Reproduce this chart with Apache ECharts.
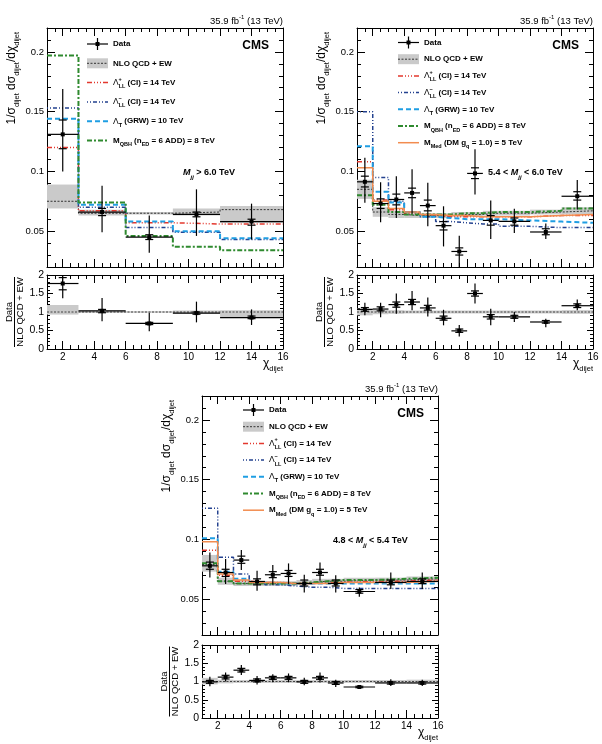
<!DOCTYPE html>
<html>
<head>
<meta charset="utf-8">
<script src="https://cdn.jsdelivr.net/npm/echarts@6/dist/echarts.min.js"></script>
<style>
html, body { margin: 0; padding: 0; background: #fff; }
#chart { width: 602px; height: 744px; }
</style>
</head>
<body>
<div id="chart"></div>
<script>
'use strict';

// chi_dijet bin edges
var edgesHigh = [1, 3, 6, 9, 12, 16];
var edgesLow = [1, 2, 3, 4, 5, 6, 7, 8, 9, 10, 12, 14, 16];

var xMajorTicks = [2, 4, 6, 8, 10, 12, 14, 16];
var yMainTicks = [0.05, 0.1, 0.15, 0.2];
var yRatioTicks = [0, 0.5, 1, 1.5, 2];

// ---- M_jj > 6.0 TeV
var p1Data = [0.131, 0.066, 0.045, 0.064, 0.058];
var p1DataLo = [0.100, 0.049, 0.032, 0.046, 0.043];
var p1DataHi = [0.169, 0.088, 0.063, 0.085, 0.073];
var p1StatLo = [0.119, 0.063, 0.043, 0.062, 0.055];
var p1StatHi = [0.143, 0.069, 0.047, 0.066, 0.060];
var p1Qcd = [0.075, 0.065, 0.065, 0.066, 0.068];
var p1QcdLo = [0.069, 0.063, 0.064, 0.063, 0.057];
var p1QcdHi = [0.089, 0.068, 0.066, 0.069, 0.071];
var p1CIplus = [0.120, 0.067, 0.057, 0.056, 0.056];
var p1CIminus = [0.153, 0.070, 0.053, 0.049, 0.043];
var p1GRW = [0.144, 0.072, 0.058, 0.050, 0.044];
var p1QBH = [0.197, 0.074, 0.046, 0.037, 0.034];
var p1Ratio = [1.77, 1.03, 0.69, 0.97, 0.85];
var p1RatioLo = [1.37, 0.75, 0.48, 0.72, 0.65];
var p1RatioHi = [2.30, 1.38, 0.98, 1.28, 1.07];
var p1RStatLo = [1.60, 0.98, 0.66, 0.94, 0.82];
var p1RStatHi = [1.93, 1.07, 0.72, 1.00, 0.89];
var p1BandLo = [0.93, 0.97, 0.98, 0.96, 0.84];
var p1BandHi = [1.19, 1.04, 1.02, 1.04, 1.05];

// ---- 5.4 < M_jj < 6.0 TeV
var p2Data = [0.0913, 0.0731, 0.0765, 0.082, 0.0714, 0.0546, 0.033, 0.0983, 0.059, 0.0582, 0.0493, 0.0792];
var p2DataLo = [0.0737, 0.0574, 0.061, 0.0647, 0.054, 0.0372, 0.018, 0.0807, 0.0434, 0.0485, 0.0434, 0.0681];
var p2DataHi = [0.1115, 0.091, 0.096, 0.1017, 0.0905, 0.0708, 0.0462, 0.1185, 0.0756, 0.0687, 0.0563, 0.0927];
var p2StatLo = [0.087, 0.069, 0.072, 0.078, 0.067, 0.051, 0.030, 0.094, 0.055, 0.055, 0.047, 0.076];
var p2StatHi = [0.096, 0.077, 0.081, 0.086, 0.076, 0.058, 0.036, 0.103, 0.063, 0.061, 0.052, 0.083];
var p2Qcd = [0.085, 0.066, 0.064, 0.063, 0.063, 0.063, 0.064, 0.064, 0.065, 0.065, 0.066, 0.067];
var p2QcdLo = [0.077, 0.062, 0.061, 0.061, 0.061, 0.061, 0.062, 0.062, 0.063, 0.063, 0.064, 0.064];
var p2QcdHi = [0.093, 0.070, 0.067, 0.065, 0.065, 0.065, 0.066, 0.066, 0.067, 0.067, 0.068, 0.070];
var p2CIplus = [0.108, 0.076, 0.068, 0.065, 0.063, 0.062, 0.062, 0.062, 0.062, 0.062, 0.063, 0.063];
var p2CIminus = [0.150, 0.095, 0.075, 0.066, 0.062, 0.058, 0.057, 0.056, 0.056, 0.054, 0.053, 0.053];
var p2GRW = [0.121, 0.083, 0.074, 0.066, 0.062, 0.061, 0.060, 0.060, 0.060, 0.059, 0.058, 0.057];
var p2QBH = [0.080, 0.072, 0.066, 0.064, 0.064, 0.064, 0.065, 0.065, 0.066, 0.066, 0.067, 0.069];
var p2DM = [0.103, 0.075, 0.069, 0.066, 0.064, 0.063, 0.063, 0.062, 0.062, 0.062, 0.063, 0.064];
var p2Ratio = [1.07, 1.08, 1.20, 1.27, 1.11, 0.83, 0.49, 1.50, 0.87, 0.87, 0.73, 1.17];
var p2RatioLo = [0.91, 0.86, 0.95, 1.05, 0.88, 0.64, 0.34, 1.23, 0.64, 0.73, 0.59, 1.05];
var p2RatioHi = [1.25, 1.25, 1.50, 1.57, 1.39, 1.06, 0.65, 1.77, 1.09, 1.00, 0.82, 1.34];
var p2RStatLo = [1.02, 1.03, 1.13, 1.20, 1.05, 0.78, 0.45, 1.43, 0.81, 0.83, 0.70, 1.12];
var p2RStatHi = [1.12, 1.14, 1.27, 1.34, 1.18, 0.89, 0.54, 1.57, 0.93, 0.91, 0.77, 1.22];
var p2BandLo = [0.91, 0.94, 0.95, 0.96, 0.96, 0.96, 0.96, 0.96, 0.96, 0.96, 0.96, 0.95];
var p2BandHi = [1.09, 1.06, 1.05, 1.04, 1.04, 1.04, 1.04, 1.04, 1.04, 1.04, 1.04, 1.05];

// ---- 4.8 < M_jj < 5.4 TeV
var p3Data = [0.0779, 0.0723, 0.0827, 0.0648, 0.0704, 0.0715, 0.0631, 0.0723, 0.0631, 0.0564, 0.0640, 0.0648];
var p3DataLo = [0.0682, 0.0626, 0.0743, 0.057, 0.062, 0.0626, 0.0556, 0.0654, 0.0556, 0.052, 0.0584, 0.0584];
var p3DataHi = [0.0891, 0.0835, 0.0911, 0.0737, 0.0785, 0.0799, 0.0704, 0.0807, 0.070, 0.0598, 0.0723, 0.0723];
var p3StatLo = [0.075, 0.069, 0.080, 0.062, 0.068, 0.069, 0.061, 0.070, 0.061, 0.055, 0.062, 0.063];
var p3StatHi = [0.081, 0.075, 0.086, 0.067, 0.073, 0.074, 0.066, 0.075, 0.066, 0.058, 0.066, 0.067];
var p3Qcd = [0.079, 0.065, 0.063, 0.063, 0.063, 0.063, 0.064, 0.065, 0.065, 0.066, 0.066, 0.067];
var p3QcdLo = [0.073, 0.062, 0.061, 0.061, 0.061, 0.061, 0.062, 0.063, 0.063, 0.064, 0.064, 0.065];
var p3QcdHi = [0.087, 0.068, 0.066, 0.065, 0.065, 0.065, 0.066, 0.067, 0.067, 0.068, 0.068, 0.069];
var p3CIplus = [0.091, 0.070, 0.065, 0.064, 0.064, 0.063, 0.063, 0.064, 0.064, 0.065, 0.065, 0.066];
var p3CIminus = [0.126, 0.085, 0.071, 0.064, 0.062, 0.061, 0.060, 0.060, 0.059, 0.059, 0.059, 0.059];
var p3GRW = [0.101, 0.073, 0.067, 0.064, 0.063, 0.063, 0.063, 0.063, 0.063, 0.063, 0.063, 0.063];
var p3QBH = [0.080, 0.065, 0.063, 0.063, 0.063, 0.063, 0.064, 0.065, 0.066, 0.066, 0.067, 0.068];
var p3DM = [0.098, 0.071, 0.066, 0.064, 0.064, 0.063, 0.063, 0.063, 0.064, 0.064, 0.064, 0.065];
var p3Ratio = [0.99, 1.12, 1.31, 1.03, 1.10, 1.10, 0.99, 1.10, 0.96, 0.85, 0.96, 0.96];
var p3RatioLo = [0.87, 1.00, 1.18, 0.92, 0.98, 0.98, 0.90, 0.97, 0.85, 0.80, 0.88, 0.88];
var p3RatioHi = [1.13, 1.25, 1.45, 1.15, 1.20, 1.22, 1.10, 1.25, 1.05, 0.90, 1.06, 1.05];
var p3RStatLo = [0.95, 1.07, 1.26, 0.99, 1.06, 1.06, 0.95, 1.06, 0.92, 0.83, 0.93, 0.93];
var p3RStatHi = [1.03, 1.17, 1.36, 1.07, 1.14, 1.14, 1.03, 1.14, 1.00, 0.87, 0.99, 0.99];
var p3BandLo = [0.92, 0.95, 0.96, 0.96, 0.96, 0.96, 0.96, 0.96, 0.96, 0.96, 0.96, 0.95];
var p3BandHi = [1.10, 1.05, 1.04, 1.04, 1.04, 1.04, 1.04, 1.04, 1.04, 1.04, 1.04, 1.05];

var FONT = '"Liberation Sans", Arial, Helvetica, sans-serif';
var BAND = '#cacaca';

var STY = {
    qcd: {color: '#333', width: 1, dash: [2, 1.5]},
    ciPlus: {color: '#e3382e', width: 1.5, dash: [5, 2, 1, 2, 1, 2, 1, 2]},
    ciMinus: {color: '#23418f', width: 1.5, dash: [1, 2, 1, 2, 4, 2]},
    grw: {color: '#1f9ee3', width: 2, dash: [5, 3]},
    qbh: {color: '#2f8a2f', width: 2, dash: [5, 2, 2, 2]},
    dm: {color: '#f28c4f', width: 1.5, dash: 'solid'}
};

var RICH = {
    b: {fontFamily: FONT, fontWeight: 'bold', fontSize: 8, lineHeight: 14, color: '#000'},
    bb: {fontFamily: FONT, fontWeight: 'bold', fontSize: 9, lineHeight: 14, color: '#000'},
    bi: {fontFamily: FONT, fontWeight: 'bold', fontStyle: 'italic', fontSize: 9, lineHeight: 14, color: '#000'},
    g: {fontFamily: FONT, fontSize: 8.5, lineHeight: 14, color: '#000'},
    s: {fontFamily: FONT, fontWeight: 'bold', fontSize: 5.5, lineHeight: 6, verticalAlign: 'bottom', color: '#000'},
    si: {fontFamily: FONT, fontWeight: 'bold', fontStyle: 'italic', fontSize: 6, lineHeight: 6, verticalAlign: 'bottom', color: '#000'},
    m: {fontFamily: FONT, fontSize: 12, lineHeight: 18, color: '#000'},
    ms: {fontFamily: FONT, fontSize: 7.5, lineHeight: 8, verticalAlign: 'bottom', color: '#000'},
    h: {fontFamily: FONT, fontSize: 9.5, lineHeight: 14, color: '#000'},
    hs: {fontFamily: FONT, fontSize: 6, lineHeight: 6, verticalAlign: 'top', color: '#000'},
    cms: {fontFamily: FONT, fontWeight: 'bold', fontSize: 12, lineHeight: 14, color: '#000'},
    r: {fontFamily: FONT, fontSize: 9.5, lineHeight: 12, color: '#000'}
};

var grids = [], xAxes = [], yAxes = [], series = [], graphics = [];

// one frame = grid + major/minor tick axes on all four sides (ROOT style, ticks inside)
function addFrame(box, yMin, yMax, yMajor, yMinorStep, yMajLen, yMinLen, yLabelSize, showXLabels) {
    var gi = grids.length;
    grids.push({left: box[0], top: box[1], width: box[2], height: box[3],
        containLabel: false, outerBoundsMode: 'none'});
    var xi = xAxes.length, yi = yAxes.length;
    ['bottom', 'top'].forEach(function (pos) {
        xAxes.push({
            gridIndex: gi, type: 'value', position: pos, min: 1, max: 16,
            axisLine: {show: true, onZero: false, lineStyle: {color: '#000', width: 1}},
            axisTick: {show: true, inside: true, length: 8, customValues: xMajorTicks,
                lineStyle: {color: '#000', width: 1}},
            axisLabel: {show: pos === 'bottom' && showXLabels, customValues: xMajorTicks, margin: 3,
                fontSize: 10, color: '#000', fontFamily: FONT},
            splitLine: {show: false}
        });
        xAxes.push({
            gridIndex: gi, type: 'value', position: pos, min: 1, max: 16, interval: 0.5,
            axisLine: {show: false, onZero: false},
            axisTick: {show: true, inside: true, length: 4, lineStyle: {color: '#000', width: 1}},
            axisLabel: {show: false}, splitLine: {show: false}
        });
    });
    ['left', 'right'].forEach(function (pos) {
        yAxes.push({
            gridIndex: gi, type: 'value', position: pos, min: yMin, max: yMax,
            axisLine: {show: true, onZero: false, lineStyle: {color: '#000', width: 1}},
            axisTick: {show: true, inside: true, length: yMajLen, customValues: yMajor,
                lineStyle: {color: '#000', width: 1}},
            axisLabel: {show: pos === 'left', customValues: yMajor, margin: 3,
                fontSize: yLabelSize, color: '#000', fontFamily: FONT},
            splitLine: {show: false}
        });
        yAxes.push({
            gridIndex: gi, type: 'value', position: pos, min: yMin, max: yMax, interval: yMinorStep,
            axisLine: {show: false, onZero: false},
            axisTick: {show: true, inside: true, length: yMinLen, lineStyle: {color: '#000', width: 1}},
            axisLabel: {show: false}, splitLine: {show: false}
        });
    });
    return {x: xi, y: yi};
}

function stepData(edges, vals) {
    var d = [];
    for (var i = 0; i < vals.length; i++) d.push([edges[i], vals[i]]);
    d.push([edges[vals.length], vals[vals.length - 1]]);
    return d;
}

function addStep(ax, edges, vals, sty) {
    series.push({
        type: 'line', xAxisIndex: ax.x, yAxisIndex: ax.y, data: stepData(edges, vals),
        step: 'end', symbol: 'none', silent: true, z: 3,
        lineStyle: {color: sty.color, width: sty.width, type: sty.dash}
    });
}

function addBand(ax, edges, lo, hi) {
    var d = lo.map(function (v, i) { return [edges[i], edges[i + 1], lo[i], hi[i]]; });
    series.push({
        type: 'custom', xAxisIndex: ax.x, yAxisIndex: ax.y, data: d, clip: true, silent: true, z: 1,
        renderItem: function (params, api) {
            var a = api.coord([api.value(0), api.value(3)]);
            var b = api.coord([api.value(1), api.value(2)]);
            return {type: 'rect', shape: {x: a[0], y: a[1], width: b[0] - a[0], height: b[1] - a[1]},
                style: {fill: BAND}};
        }
    });
}

// data points: bin-wide bar, total error bar, small stat-error ticks
function addPoints(ax, edges, vals, lo, hi, sLo, sHi) {
    var d = vals.map(function (v, i) {
        return [(edges[i] + edges[i + 1]) / 2, v, lo[i], hi[i], edges[i], edges[i + 1], sLo[i], sHi[i]];
    });
    series.push({
        type: 'custom', xAxisIndex: ax.x, yAxisIndex: ax.y, data: d, clip: true, silent: true, z: 5,
        renderItem: function (params, api) {
            var c = api.coord([api.value(0), api.value(1)]);
            var t = api.coord([api.value(0), api.value(3)]);
            var bt = api.coord([api.value(0), api.value(2)]);
            var l = api.coord([api.value(4), api.value(1)]);
            var r = api.coord([api.value(5), api.value(1)]);
            var s1 = api.coord([api.value(0), api.value(6)]);
            var s2 = api.coord([api.value(0), api.value(7)]);
            var st = {stroke: '#000', lineWidth: 1.2};
            return {type: 'group', children: [
                {type: 'line', shape: {x1: l[0], y1: c[1], x2: r[0], y2: c[1]}, style: st},
                {type: 'line', shape: {x1: c[0], y1: t[1], x2: c[0], y2: bt[1]}, style: st},
                {type: 'line', shape: {x1: c[0] - 4, y1: s1[1], x2: c[0] + 4, y2: s1[1]}, style: st},
                {type: 'line', shape: {x1: c[0] - 4, y1: s2[1], x2: c[0] + 4, y2: s2[1]}, style: st},
                {type: 'rect', shape: {x: c[0] - 2, y: c[1] - 2, width: 4, height: 4}, style: {fill: '#000'}}
            ]};
        }
    });
}

function text(x, y, t, align, rot) {
    graphics.push({
        type: 'text', x: x, y: y, rotation: rot || 0, silent: true, z: 100,
        style: {text: t, rich: RICH, align: align || 'left', verticalAlign: 'middle', fill: '#000'}
    });
}

function gline(x1, y1, x2, y2, color, width, dash) {
    graphics.push({
        type: 'line', silent: true, z: 100,
        shape: {x1: x1, y1: y1, x2: x2, y2: y2},
        style: {stroke: color, lineWidth: width, lineDash: dash === 'solid' ? null : dash}
    });
}

function addLegend(x, y, dy, entries) {
    entries.forEach(function (e, i) {
        var yy = y + i * dy;
        if (e.kind === 'data') {
            gline(x, yy, x + 21, yy, '#000', 1.2);
            gline(x + 10.5, yy - 6, x + 10.5, yy + 6, '#000', 1.2);
            graphics.push({type: 'rect', silent: true, z: 100,
                shape: {x: x + 8.5, y: yy - 2, width: 4, height: 4}, style: {fill: '#000'}});
        } else if (e.kind === 'band') {
            graphics.push({type: 'rect', silent: true, z: 100,
                shape: {x: x, y: yy - 5, width: 21, height: 10}, style: {fill: BAND}});
            gline(x, yy, x + 21, yy, STY.qcd.color, 1, STY.qcd.dash);
        } else {
            gline(x, yy, x + 21, yy, e.sty.color, e.sty.width, e.sty.dash);
        }
        text(x + 26, yy, e.label, 'left');
        if (e.sup) text(x + 31.5, yy - 3.5, '{s|' + e.sup + '}', 'left');
    });
}

var panels = [
    {main: [47, 28, 236, 239], ratio: [47, 275, 236, 74], edges: edgesHigh,
        data: p1Data, dataLo: p1DataLo, dataHi: p1DataHi, statLo: p1StatLo, statHi: p1StatHi,
        qcd: p1Qcd, qcdLo: p1QcdLo, qcdHi: p1QcdHi,
        models: [[p1CIplus, STY.ciPlus], [p1CIminus, STY.ciMinus], [p1GRW, STY.grw], [p1QBH, STY.qbh]],
        ratio_: p1Ratio, ratioLo: p1RatioLo, ratioHi: p1RatioHi, rStatLo: p1RStatLo, rStatHi: p1RStatHi,
        bandLo: p1BandLo, bandHi: p1BandHi,
        mass: '{bi|M}{si|jj}{bb| > 6.0 TeV}', massX: 183, leg: [87, 44, 19.3], dm: false},
    {main: [357, 28, 236, 239], ratio: [357, 275, 236, 74], edges: edgesLow,
        data: p2Data, dataLo: p2DataLo, dataHi: p2DataHi, statLo: p2StatLo, statHi: p2StatHi,
        qcd: p2Qcd, qcdLo: p2QcdLo, qcdHi: p2QcdHi,
        models: [[p2CIplus, STY.ciPlus], [p2CIminus, STY.ciMinus], [p2GRW, STY.grw], [p2QBH, STY.qbh], [p2DM, STY.dm]],
        ratio_: p2Ratio, ratioLo: p2RatioLo, ratioHi: p2RatioHi, rStatLo: p2RStatLo, rStatHi: p2RStatHi,
        bandLo: p2BandLo, bandHi: p2BandHi,
        mass: '{bb|5.4 < }{bi|M}{si|jj}{bb| < 6.0 TeV}', massX: 488, leg: [398, 42.5, 16.7], dm: true},
    {main: [202, 396, 236, 239], ratio: [202, 645, 236, 73], edges: edgesLow,
        data: p3Data, dataLo: p3DataLo, dataHi: p3DataHi, statLo: p3StatLo, statHi: p3StatHi,
        qcd: p3Qcd, qcdLo: p3QcdLo, qcdHi: p3QcdHi,
        models: [[p3CIplus, STY.ciPlus], [p3CIminus, STY.ciMinus], [p3GRW, STY.grw], [p3QBH, STY.qbh], [p3DM, STY.dm]],
        ratio_: p3Ratio, ratioLo: p3RatioLo, ratioHi: p3RatioHi, rStatLo: p3RStatLo, rStatHi: p3RStatHi,
        bandLo: p3BandLo, bandHi: p3BandHi,
        mass: '{bb|4.8 < }{bi|M}{si|jj}{bb| < 5.4 TeV}', massX: 333, leg: [243, 410, 16.7], dm: true}
];

panels.forEach(function (p) {
    var m = addFrame(p.main, 0.02, 0.22, yMainTicks, 0.01, 8, 4, 9.5, false);
    var r = addFrame(p.ratio, 0, 2, yRatioTicks, 0.1, 6, 3, 10.5, true);

    addBand(m, p.edges, p.qcdLo, p.qcdHi);
    addStep(m, p.edges, p.qcd, STY.qcd);
    p.models.forEach(function (md) { addStep(m, p.edges, md[0], md[1]); });
    addPoints(m, p.edges, p.data, p.dataLo, p.dataHi, p.statLo, p.statHi);

    addBand(r, p.edges, p.bandLo, p.bandHi);
    series.push({type: 'line', xAxisIndex: r.x, yAxisIndex: r.y, data: [[1, 1], [16, 1]],
        symbol: 'none', silent: true, z: 2, lineStyle: {color: '#444', width: 1, type: [2, 1.5]}});
    addPoints(r, p.edges, p.ratio_, p.ratioLo, p.ratioHi, p.rStatLo, p.rStatHi);

    var L = p.main[0], T = p.main[1], R = p.main[0] + p.main[2];
    var RT = p.ratio[1], RB = p.ratio[1] + p.ratio[3];

    text(L - 35, T + 4, '{m|1/σ}{ms|dijet}{m| dσ}{ms|dijet}{m|/dχ}{ms|dijet}', 'right', Math.PI / 2);
    var rc = RT + p.ratio[3] / 2;
    text(L - 38, rc, '{r|Data}', 'center', Math.PI / 2);
    gline(L - 32.5, rc - 35, L - 32.5, rc + 35, '#000', 1);
    text(L - 27, rc, '{r|NLO QCD + EW}', 'center', Math.PI / 2);
    text(R, RB + 15, '{m|χ}{ms|dijet}', 'right');

    text(R, T - 7, '{h|35.9 fb}{hs|-1}{h| (13 TeV)}', 'right');
    text(R - 14, T + 18, '{cms|CMS}', 'right');
    text(p.massX, T + 145, p.mass, 'left');

    var entries = [
        {kind: 'data', label: '{b|Data}'},
        {kind: 'band', label: '{b|NLO QCD + EW}'},
        {kind: 'line', sty: STY.ciPlus, label: '{g|Λ}{s|LL}{b| (CI) = 14 TeV}', sup: '+'},
        {kind: 'line', sty: STY.ciMinus, label: '{g|Λ}{s|LL}{b| (CI) = 14 TeV}', sup: '−'},
        {kind: 'line', sty: STY.grw, label: '{g|Λ}{s|T}{b| (GRW) = 10 TeV}'},
        {kind: 'line', sty: STY.qbh, label: '{b|M}{s|QBH}{b| (n}{s|ED}{b| = 6 ADD) = 8 TeV}'}
    ];
    if (p.dm) entries.push({kind: 'line', sty: STY.dm, label: '{b|M}{s|Med}{b| (DM g}{s|q}{b| = 1.0) = 5 TeV}'});
    addLegend(p.leg[0], p.leg[1], p.leg[2], entries);
});

var chart = echarts.init(document.getElementById('chart'));
chart.setOption({
    animation: false,
    backgroundColor: '#fff',
    grid: grids,
    xAxis: xAxes,
    yAxis: yAxes,
    series: series,
    graphic: graphics
});
</script>
</body>
</html>
